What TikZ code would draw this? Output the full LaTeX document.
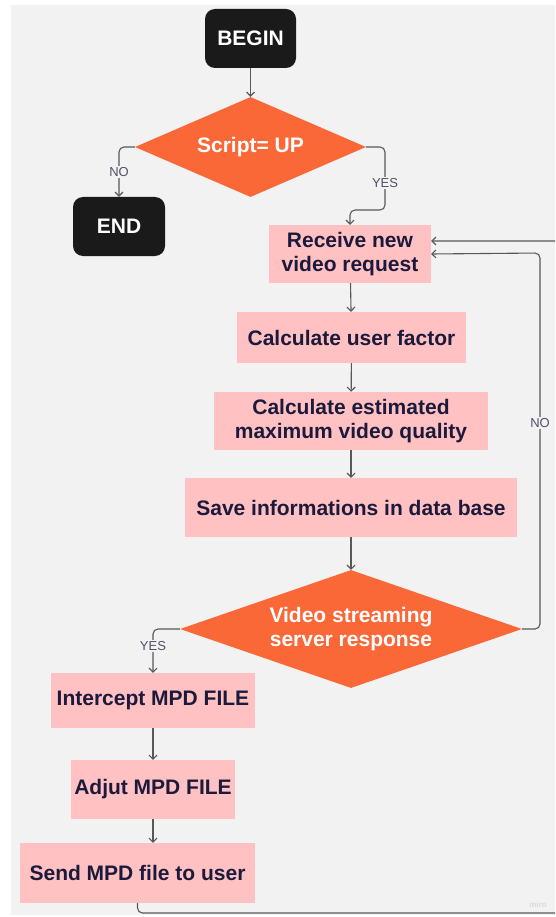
\documentclass[tikz,border=0pt]{standalone}
\usepackage{fontspec}
\setmainfont{Liberation Sans}
\usetikzlibrary{shapes.geometric, arrows.meta}
\tikzstyle{chart} = [x = 1pt, y = -1pt]
\definecolor{backColor}{RGB}{242,242,242}
\definecolor{terminalColor}{RGB}{26,26,26}
\definecolor{processColor}{RGB}{255,193,193}
\definecolor{processText}{RGB}{28,26,60}
\definecolor{decisionColor}{RGB}{250,104,56}
\definecolor{lineColor}{RGB}{88,88,88}
\definecolor{branchColor}{RGB}{80,80,105}
\newcommand{\boxFont}{\fontsize{21}{24}\selectfont\bfseries}
\newcommand{\branchFont}{\fontsize{13}{13}\selectfont}
\tikzstyle{terminalStyle} = [fill=terminalColor, text=white, rounded corners = 10pt, font=\boxFont, inner sep=0pt]
\tikzstyle{processStyle} = [fill=processColor, text=processText, font=\boxFont, align=center, inner sep=0pt]
\tikzstyle{decisionStyle} = [diamond, fill=decisionColor, text=white, font=\boxFont, align=center, inner sep=0pt]
\tikzstyle{flowLine} = [color=lineColor, line width=1.1pt, rounded corners = 5pt, -{Straight Barb[length=4pt, width=8pt]}]
\tikzstyle{branchText} = [fill=backColor, text=branchColor, font=\branchFont, inner sep=1.5pt]
\newcommand{\flowArrow}[2]{\draw [flowLine] (#1) -- (#2);}

\begin{document}
\begin{tikzpicture}[chart]
  \useasboundingbox (0,0) rectangle (555,917);
  \clip (0,0) rectangle (555,917);
  \fill [backColor] (11,5) rectangle (555,915);

  % start and test of the script
  \node (begin) [terminalStyle, minimum width=91pt, minimum height=59pt] at (250.5,38.5) {BEGIN};
  \node (scriptUp) [decisionStyle, shape aspect=2.31, minimum width=231pt, minimum height=100pt] at (250.5,147) {Script= UP};
  \node (endNode) [terminalStyle, minimum width=92pt, minimum height=59pt] at (119,226.5) {END};

  % main column
  \node (receive) [processStyle, minimum width=162pt, minimum height=58pt] at (350,254) {Receive new\\video request};
  \node (userFactor) [processStyle, minimum width=229pt, minimum height=51pt] at (351.5,337.5) {Calculate user factor};
  \node (maxQuality) [processStyle, minimum width=274pt, minimum height=58pt] at (351,421) {Calculate estimated\\maximum video quality};
  \node (saveInfo) [processStyle, minimum width=332pt, minimum height=59pt] at (351,507.5) {Save informations in data base};
  \node (serverResponse) [decisionStyle, shape aspect=2.9, minimum width=342pt, minimum height=118pt] at (351,629) {Video streaming\\server response};

  % MPD branch
  \node (intercept) [processStyle, minimum width=204pt, minimum height=55pt] at (153,700.5) {Intercept MPD FILE};
  \node (adjust) [processStyle, minimum width=164pt, minimum height=59pt] at (153,789.5) {Adjut MPD FILE};
  \node (sendFile) [processStyle, minimum width=235pt, minimum height=60pt] at (137.5,873) {Send MPD file to user};

  \coordinate (yesBend) at (385,210);
  \coordinate (noLoop) at (540,253);
  \coordinate (loopCorner) at (580,913);

  \flowArrow{begin}{scriptUp}
  \draw [flowLine] (scriptUp.west) -| (endNode.north);
  \draw [flowLine] (scriptUp.east) -| (yesBend) -| (receive.north);
  \flowArrow{receive}{userFactor}
  \flowArrow{userFactor}{maxQuality}
  \flowArrow{maxQuality}{saveInfo}
  \flowArrow{saveInfo}{serverResponse}
  \draw [flowLine] (serverResponse.east) -| (noLoop) -- (receive.east);
  \draw [flowLine] (serverResponse.west) -| (intercept.north);
  \flowArrow{intercept}{adjust}
  \draw [flowLine] (adjust.south) -- (adjust.south |- sendFile.north);
  \draw [flowLine] (sendFile.south) |- (loopCorner) |- ([yshift=13pt]receive.east);

  \node (noScript) [branchText] at (119,172) {NO};
  \node (yesScript) [branchText] at (385,183) {YES};
  \node (noServer) [branchText] at (540,423) {NO};
  \node (yesServer) [branchText] at (153,646) {YES};
  \node (miro) [text=black!15, font=\fontsize{8}{8}\selectfont\bfseries] at (538,905) {miro};
\end{tikzpicture}
\end{document}
